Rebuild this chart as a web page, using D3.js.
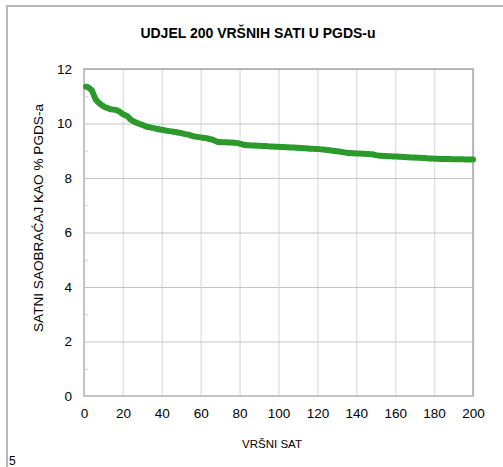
<!DOCTYPE html>
<html>
<head>
<meta charset="utf-8">
<script src="https://cdn.jsdelivr.net/npm/d3@7/dist/d3.min.js"></script>
<style>
  html, body { margin: 0; padding: 0; background: #fff; }
  svg { display: block; }
  text { font-family: "Liberation Sans", Arial, sans-serif; fill: #000; }
</style>
</head>
<body>
<svg id="chart" width="503" height="467"></svg>
<script>
// Share of the 200 peak hours in annual average daily traffic (PGDS), sorted descending
const title = "UDJEL 200 VRŠNIH SATI U PGDS-u";
const xTitle = "VRŠNI SAT";
const yTitle = "SATNI SAOBRAĆAJ KAO % PGDS-a";
const pageNumber = "5";

const xTicks = [0, 20, 40, 60, 80, 100, 120, 140, 160, 180, 200];
const yTicks = [0, 2, 4, 6, 8, 10, 12];
const yMinorTicks = [1, 3, 5, 7, 9, 11];

const hourShare = [
  11.35, 11.33, 11.28, 11.22, 11.05, 10.88, 10.80, 10.74, 10.68, 10.63,
  10.59, 10.57, 10.54, 10.52, 10.51, 10.50, 10.48, 10.45, 10.40, 10.34,
  10.31, 10.28, 10.22, 10.14, 10.10, 10.06, 10.03, 10.00, 9.97, 9.95,
  9.92, 9.89, 9.87, 9.86, 9.84, 9.83, 9.81, 9.80, 9.78, 9.77,
  9.76, 9.74, 9.73, 9.72, 9.71, 9.70, 9.69, 9.67, 9.66, 9.65,
  9.63, 9.61, 9.60, 9.58, 9.56, 9.54, 9.52, 9.51, 9.50, 9.49,
  9.48, 9.47, 9.46, 9.44, 9.42, 9.41, 9.38, 9.34, 9.32, 9.32,
  9.31, 9.31, 9.31, 9.30, 9.30, 9.30, 9.29, 9.29, 9.28, 9.26,
  9.24, 9.22, 9.21, 9.20, 9.20, 9.19, 9.19, 9.19, 9.18, 9.18,
  9.18, 9.17, 9.17, 9.17, 9.16, 9.16, 9.16, 9.15, 9.15, 9.15,
  9.14, 9.14, 9.14, 9.13, 9.13, 9.12, 9.12, 9.12, 9.11, 9.11,
  9.10, 9.10, 9.09, 9.09, 9.08, 9.07, 9.07, 9.07, 9.06, 9.06,
  9.06, 9.05, 9.05, 9.04, 9.03, 9.02, 9.01, 9.00, 8.99, 8.98,
  8.97, 8.96, 8.95, 8.94, 8.93, 8.92, 8.92, 8.91, 8.91, 8.90,
  8.90, 8.90, 8.89, 8.89, 8.88, 8.88, 8.87, 8.87, 8.86, 8.84,
  8.83, 8.82, 8.82, 8.81, 8.81, 8.80, 8.80, 8.80, 8.79, 8.79,
  8.79, 8.78, 8.78, 8.77, 8.77, 8.76, 8.76, 8.75, 8.75, 8.75,
  8.74, 8.74, 8.74, 8.73, 8.73, 8.73, 8.72, 8.72, 8.72, 8.71,
  8.71, 8.71, 8.70, 8.70, 8.70, 8.70, 8.70, 8.70, 8.69, 8.69,
  8.69, 8.69, 8.69, 8.69, 8.69, 8.68, 8.68, 8.68, 8.68, 8.68
];
const hours = hourShare.map((_, i) => i + 1);

const svg = d3.select("#chart");
const plot = { left: 84, right: 473, top: 69, bottom: 396 };

const x = d3.scaleLinear().domain([0, 200]).range([plot.left, plot.right]);
const y = d3.scaleLinear().domain([0, 12]).range([plot.bottom, plot.top]);

// outer chart frame (continues past the right and bottom edges)
svg.append("path")
  .attr("d", `M7,470 L7,6 L510,6`)
  .attr("fill", "none")
  .attr("stroke", "#b8b8b8")
  .attr("stroke-width", 2);

// vertical gridlines
svg.append("g")
  .attr("transform", `translate(0,${plot.bottom})`)
  .call(d3.axisBottom(x).tickValues(xTicks).tickSize(-(plot.bottom - plot.top)).tickFormat(""))
  .call(g => g.select(".domain").remove())
  .call(g => g.selectAll("line").attr("stroke", "#e2e2e2").attr("stroke-width", 1.5));

// horizontal gridlines
svg.append("g")
  .attr("transform", `translate(${plot.left},0)`)
  .call(d3.axisLeft(y).tickValues(yTicks).tickSize(-(plot.right - plot.left)).tickFormat(""))
  .call(g => g.select(".domain").remove())
  .call(g => g.selectAll("line").attr("stroke", "#c4c4c4").attr("stroke-width", 1));

// minor tick marks inside the left axis
svg.append("g")
  .attr("transform", `translate(${plot.left},0)`)
  .call(d3.axisLeft(y).tickValues(yMinorTicks).tickSize(-4).tickFormat(""))
  .call(g => g.select(".domain").remove())
  .call(g => g.selectAll("line").attr("stroke", "#cfcfcf"));

// plot area border
svg.append("rect")
  .attr("x", plot.left).attr("y", plot.top)
  .attr("width", plot.right - plot.left).attr("height", plot.bottom - plot.top)
  .attr("fill", "none")
  .attr("stroke", "#a8a8a8")
  .attr("stroke-width", 1.5);

// left and bottom axis lines
svg.append("path")
  .attr("d", `M${plot.left},${plot.top} L${plot.left},${plot.bottom} L${plot.right},${plot.bottom}`)
  .attr("fill", "none")
  .attr("stroke", "#c8c8c8")
  .attr("stroke-width", 1.5);

// tick labels
const xAxis = svg.append("g")
  .attr("transform", `translate(0,${plot.bottom})`)
  .call(d3.axisBottom(x).tickValues(xTicks).tickSize(0).tickPadding(12).tickFormat(d3.format("d")));
xAxis.select(".domain").remove();
xAxis.selectAll("text").style("font-size", "13.5px").style("font-family", "Liberation Sans, Arial, sans-serif");

const yAxis = svg.append("g")
  .attr("transform", `translate(${plot.left},0)`)
  .call(d3.axisLeft(y).tickValues(yTicks).tickSize(0).tickPadding(12).tickFormat(d3.format("d")));
yAxis.select(".domain").remove();
yAxis.selectAll("text").style("font-size", "13.5px").style("font-family", "Liberation Sans, Arial, sans-serif");

// data line
const line = d3.line()
  .x((d, i) => x(hours[i]))
  .y(d => y(d));

svg.append("path")
  .datum(hourShare)
  .attr("d", line)
  .attr("fill", "none")
  .attr("stroke", "#2b9a2b")
  .attr("stroke-width", 6)
  .attr("stroke-linejoin", "round")
  .attr("stroke-linecap", "round");

// titles
svg.append("text")
  .attr("x", 258).attr("y", 38)
  .attr("text-anchor", "middle")
  .style("font-size", "14px").style("font-weight", "bold")
  .text(title);

svg.append("text")
  .attr("x", 272).attr("y", 448)
  .attr("text-anchor", "middle")
  .style("font-size", "11.5px")
  .text(xTitle);

svg.append("text")
  .attr("transform", `translate(43,218) rotate(-90)`)
  .attr("text-anchor", "middle")
  .attr("textLength", 228)
  .attr("lengthAdjust", "spacingAndGlyphs")
  .style("font-size", "12.5px")
  .text(yTitle);

svg.append("text")
  .attr("x", 9).attr("y", 465)
  .style("font-size", "12px")
  .text(pageNumber);
</script>
</body>
</html>
